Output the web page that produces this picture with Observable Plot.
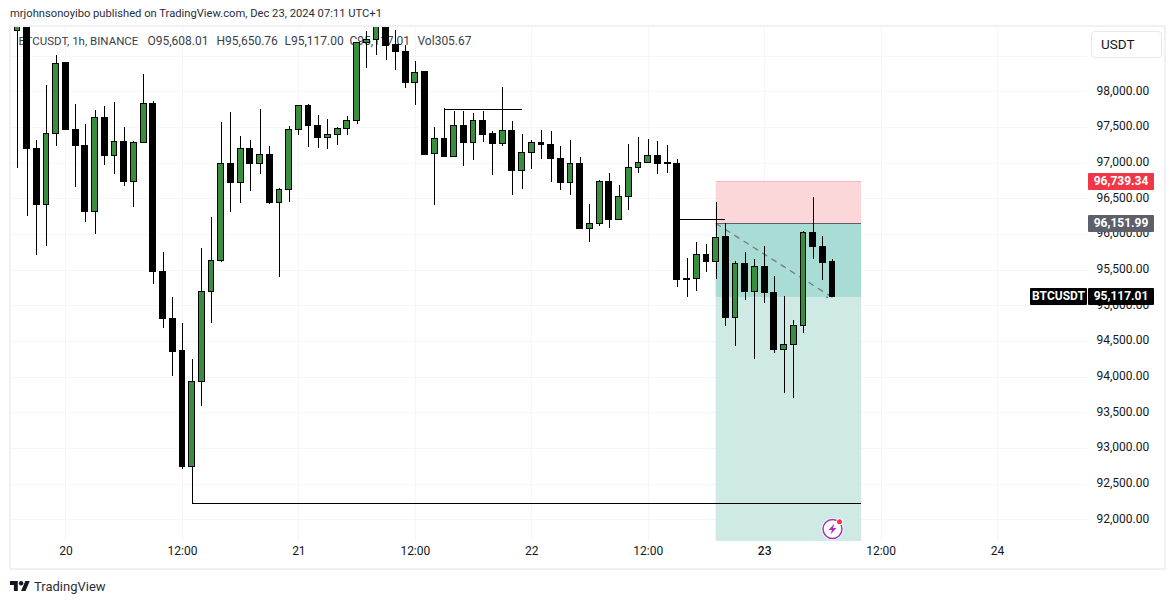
<!DOCTYPE html>
<html>
<head>
<meta charset="utf-8">
<script src="https://cdn.jsdelivr.net/npm/d3@7"></script>
<script src="https://cdn.jsdelivr.net/npm/@observablehq/plot@0.6"></script>
<style>
  html, body { margin: 0; padding: 0; background: #fff; }
  #page { position: relative; width: 1175px; height: 604px; overflow: hidden; font-family: Roboto, sans-serif; color: #131722; }
  #head { position: absolute; left: 10px; top: 6px; font-size: 11.2px; line-height: 16px; color: #2a2e39; white-space: nowrap; }
  #frame { position: absolute; left: 9px; top: 25px; width: 1153px; height: 541px; border: 2px solid #f0f0f6; }
  #chart { position: absolute; left: 0; top: 27px; }
  #chart svg { display: block; }
  .usdt { position: absolute; left: 1091px; top: 31px; width: 69px; height: 25px; border: 1px solid #e6e8f0; border-radius: 4px; background: #fff; font-size: 13.5px; line-height: 25px; text-indent: 9px; }
  .badge { position: absolute; height: 17px; line-height: 17px; font-size: 12px; font-weight: 700; color: #fff; text-align: center; border-radius: 1px; }
  #foot { position: absolute; left: 10px; top: 577px; height: 18px; display: flex; align-items: center; gap: 4px; font-size: 13px; color: #2a2e39; }
  #bolt { position: absolute; left: 820px; top: 516px; }
</style>
</head>
<body>
<div id="page">
  <div id="head">mrjohnsonoyibo published on TradingView.com, Dec 23, 2024 07:11 UTC+1</div>
  <div id="frame"></div>
  <div id="chart"></div>
  <div class="usdt">USDT</div>
  <svg id="bolt" width="26" height="26" viewBox="0 0 26 26">
    <circle cx="12.5" cy="13" r="11" fill="#fff"/>
    <circle cx="12.5" cy="13" r="9.5" fill="#fff" stroke="#a832b8" stroke-width="1.5"/>
    <path d="M14.5 7.5 L8.5 14 H12 L10.5 18.5 L16.5 12 H13 Z" fill="#a832b8"/>
    <circle cx="19.5" cy="5.8" r="3.4" fill="#fff"/>
    <circle cx="19.5" cy="5.8" r="2.5" fill="#f23645"/>
  </svg>
  <div id="foot">
    <svg width="20" height="12" viewBox="0 4 36 18"><path fill="#131722" d="M14 22H7V11H0V4h14v18zM28 22h-8l7.5-18h8L28 22z"/><circle fill="#131722" cx="20" cy="8" r="4"/></svg>
    <span>TradingView</span>
  </div>
</div>
<script>
// hour offsets are measured from Dec 20 00:00 (chart time)
const firstHour = -5;
const opens = [98859,99027,97205,96410,97411,98397,97468,97247,96312,97636,97097,97299,96733,97285,97836,95481,94818,94360,92734,93930,95191,95626,96991,96719,97201,96985,97117,96448,96626,97467,97804,97518,97350,97397,97481,97594,98687,98729,98999,98649,98561,98121,98271,97125,97341,97083,97523,97280,97594,97402,97266,97453,96887,97145,97285,97257,97061,96719,96991,96080,96144,96739,96200,96528,96935,97005,97103,96995,96981,95383,95379,95715,95612,95958,94827,95593,95191,95547,95183,94378,94454,94720,96023,95827,95608.01];
const highs = [99140,99210,97317,98088,98509,98415,97822,97542,97738,97794,97850,97504,97303,98243,97860,95747,95117,94752,94248,95803,96238,97570,97710,97373,97317,97752,97233,96645,97514,97812,97818,97668,97616,97500,97654,98691,98841,99112,99083,98859,98649,98425,98285,97500,97762,97724,97724,97696,97724,97439,98060,97580,97402,97317,97458,97439,97233,97317,97079,96416,96757,96851,96687,97261,97359,97331,97303,97247,97051,95659,95888,95860,96444,96154,95617,95743,95649,95832,95407,95131,94794,96042,96519,95972,95650.76];
const lows = [96925,96256,95706,95832,97238,97462,96663,96172,96004,96967,96845,96677,96382,97285,95303,94686,94014,92706,92229,93589,94757,95612,96312,96438,96607,96845,96420,95401,96448,97387,97224,97210,97196,97247,97392,97542,98331,98509,98439,98299,98051,97808,97107,96406,97083,97079,96957,97041,97294,96831,97238,96551,96635,96915,97055,96733,96621,96551,96074,95892,96116,96088,96196,96340,96859,97005,96845,96859,95261,95121,95205,95471,95373,94715,94434,95079,94252,95037,94336,93775,93705,94616,95654,95355,95117];
const closes = [99027,97195,96410,97411,98393,97462,97238,96312,97636,97097,97299,96733,97285,97836,95471,94812,94350,92734,93939,95197,95631,96991,96719,97201,96985,97117,96448,96626,97467,97804,97518,97350,97397,97481,97594,98681,98729,98999,98635,98555,98121,98266,97121,97341,97083,97523,97280,97594,97392,97266,97453,96887,97145,97285,97252,97055,96719,96991,96074,96144,96739,96200,96528,96935,97005,97103,96985,96985,95365,95359,95715,95612,95954,94827,95589,95191,95547,95177,94378,94454,94720,96023,95822,95598,95117.01];

const priceTicks = [92000,92500,93000,93500,94000,94500,95000,95500,96000,96500,97000,97500,98000];
const gridPrices = [92000,92500,93000,93500,94000,94500,95000,95500,96000,96500,97000,97500,98000,98500];
const timeHours = [0,12,24,36,48,60,84,96];
const timeLabels = ["20","12:00","21","12:00","22","12:00","12:00","24"];
const boldHour = 72, boldLabel = "23";

const stopPrice = 96739.34, entryPrice = 96151.99, lastPrice = 95117.01, targetPrice = 91697;
const positionStart = 67, positionEnd = 82, positionNow = 79;
const levelLines = [
  {from: 13, to: 82, price: 92224},
  {from: 39, to: 47, price: 97756},
  {from: 63, to: 68, price: 96215}
];
const legendParts = ["BTCUSDT, 1h, BINANCE","O95,608.01","H95,650.76","L95,117.00","C95,117.01","Vol305.67"];

const hourDate = h => new Date(Date.UTC(2024, 11, 20) + h * 3600e3);
const candles = opens.map((o, i) => ({h: firstHour + i, o, hi: highs[i], lo: lows[i], c: closes[i]}));
const fill = d => d.c >= d.o ? "#388e3c" : "#000000";
const bodyHalf = 0.3;
const legendOffsets = [7, 136, 205, 273, 338, 406];

const timeFormat = d => timeLabels[timeHours.indexOf((d - hourDate(0)) / 3600e3)];

const chart = Plot.plot({
  width: 1175,
  height: 542,
  marginLeft: 11,
  marginRight: 88,
  marginTop: 0,
  marginBottom: 28,
  style: {fontFamily: "Roboto, sans-serif", fontSize: "12px", background: "transparent", color: "#131722"},
  x: {type: "utc", domain: [hourDate(-5.615), hourDate(105.27)]},
  y: {domain: [91696.6, 98901.3]},
  marks: [
    Plot.ruleY(gridPrices, {y: d => d, stroke: "#f6f6f9", shapeRendering: "crispEdges"}),
    Plot.ruleX(timeHours.concat([boldHour]), {x: hourDate, stroke: "#f6f6f9", shapeRendering: "crispEdges"}),
    ...legendParts.map((t, i) => Plot.text([t], {frameAnchor: "top-left", dx: legendOffsets[i], dy: 9, textAnchor: "start", lineAnchor: "top", fontSize: i ? 12 : 11.5, fill: "#3a3e4a"})),
    Plot.rect([0], {x1: () => hourDate(positionStart), x2: () => hourDate(positionEnd), y1: () => entryPrice, y2: () => stopPrice, fill: "#fbd7da"}),
    Plot.rect([0], {x1: () => hourDate(positionStart), x2: () => hourDate(positionEnd), y1: () => lastPrice, y2: () => entryPrice, fill: "#a9dcd4"}),
    Plot.rect([0], {x1: () => hourDate(positionStart), x2: () => hourDate(positionEnd), y1: () => targetPrice, y2: () => lastPrice, fill: "#cfeae5"}),
    Plot.ruleY([stopPrice], {x1: hourDate(positionStart), x2: hourDate(positionEnd), stroke: "#f5b9bf", shapeRendering: "crispEdges"}),
    Plot.ruleY([entryPrice], {x1: hourDate(positionStart), x2: hourDate(positionEnd), stroke: "#5d606b", shapeRendering: "crispEdges"}),
    Plot.arrow([0], {x1: () => hourDate(positionStart), y1: () => entryPrice, x2: () => hourDate(positionNow), y2: () => lastPrice, stroke: "#777a85", strokeWidth: 1.3, strokeDasharray: "5,6", headLength: 7, bend: 0}),
    Plot.ruleX(candles, {x: d => hourDate(d.h), y1: "lo", y2: "hi", stroke: "#000", strokeWidth: 1, clip: true, shapeRendering: "crispEdges"}),
    Plot.rect(candles, {x1: d => hourDate(d.h - bodyHalf), x2: d => hourDate(d.h + bodyHalf), y1: "o", y2: "c", fill, stroke: "#000", strokeWidth: 1, clip: true, shapeRendering: "crispEdges"}),
    ...levelLines.map(l => Plot.ruleY([l.price], {x1: hourDate(l.from), x2: hourDate(l.to), stroke: "#000", strokeWidth: 1, shapeRendering: "crispEdges"})),
    Plot.axisY(priceTicks, {anchor: "right", tickSize: 0, tickPadding: 9, dy: -1, tickFormat: d3.format(",.2f"), fontSize: 12, fill: "#131722"}),
    Plot.axisX(timeHours.map(hourDate), {anchor: "bottom", tickSize: 0, tickPadding: 5, tickFormat: timeFormat, fontSize: 12, fill: "#131722"}),
    Plot.axisX([hourDate(boldHour)], {anchor: "bottom", tickSize: 0, tickPadding: 5, tickFormat: () => boldLabel, fontSize: 12, fontWeight: 500, fill: "#131722"})
  ]
});
document.getElementById("chart").append(chart);

// price badges sit on the right edge at their scale position
const page = document.getElementById("page");
const yPx = v => chart.scale("y").apply(v) + 27;
const badge = (text, value, left, width, bg) => {
  const el = document.createElement("div");
  el.className = "badge";
  el.textContent = text;
  el.style.cssText = `left:${left}px;width:${width}px;top:${yPx(value) - 8.5}px;background:${bg}`;
  page.append(el);
};
badge("96,739.34", stopPrice, 1088, 66, "#f23645");
badge("96,151.99", entryPrice, 1088, 66, "#5d606b");
badge("95,117.01", lastPrice, 1088, 66, "#000");
badge("BTCUSDT", lastPrice, 1030, 57, "#000");
</script>
</body>
</html>
